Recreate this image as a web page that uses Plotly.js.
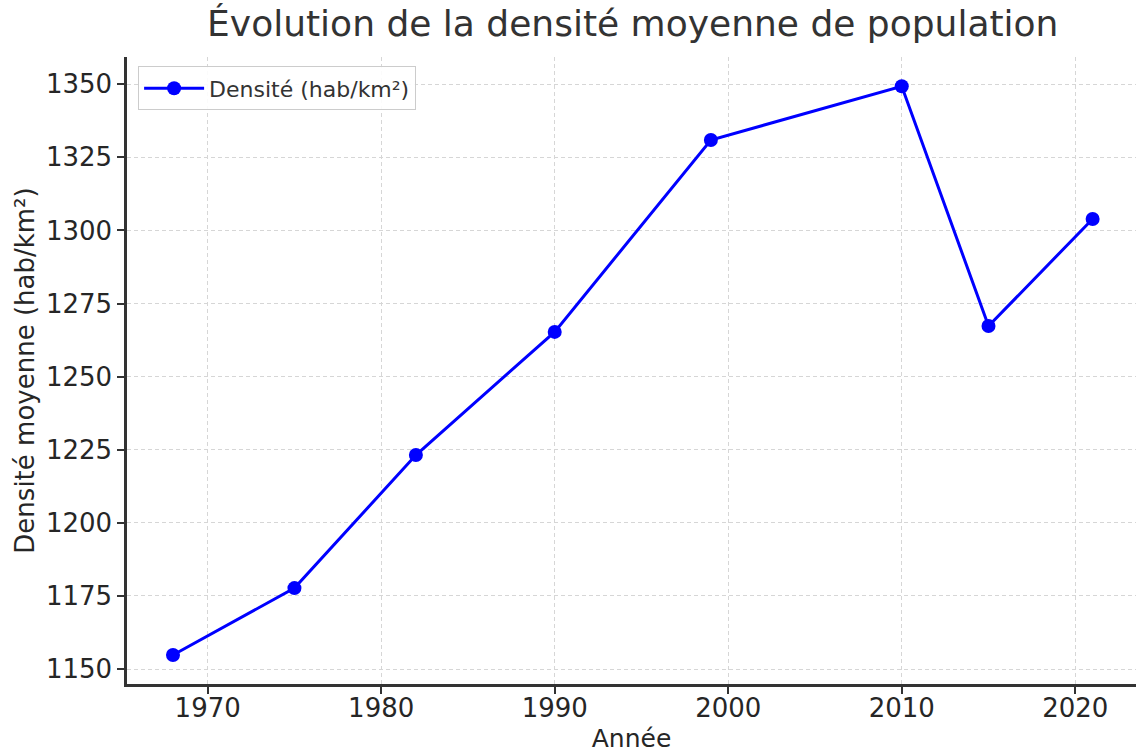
<!DOCTYPE html>
<html><head><meta charset="utf-8">
<script src="https://cdn.plot.ly/plotly-3.0.1.min.js"></script>
<style>body{margin:0;background:#fff}#chart{width:1136px;height:753px}</style>
</head><body><div id="chart"></div>
<script>
const years = [1968, 1975, 1982, 1990, 1999, 2010, 2015, 2021];
const densite = [1154.8, 1177.7, 1223.2, 1265.3, 1330.9, 1349.3, 1267.3, 1303.9];
const seriesName = 'Densité (hab/km²)';
const xTicks = [1970, 1980, 1990, 2000, 2010, 2020];
const yTicks = [1150, 1175, 1200, 1225, 1250, 1275, 1300, 1325, 1350];

const font = 'DejaVu Sans, sans-serif';
const txt = '#262626';
Plotly.newPlot('chart', [{
  x: years, y: densite, name: seriesName, type: 'scatter', mode: 'lines+markers',
  line: {color: '#0000ff', width: 3}, marker: {color: '#0000ff', size: 14},
  showlegend: true
}], {
  width: 1136, height: 753,
  margin: {l: 127, r: 0, t: 57, b: 69},
  paper_bgcolor: '#fff', plot_bgcolor: '#fff',
  font: {family: font, color: txt},
  title: {text: 'Évolution de la densité moyenne de population', font: {size: 36, color: '#333'}, x: 0.557, xanchor: 'center', y: 0.985, yanchor: 'top'},
  xaxis: {range: [1965.35, 2023.5], tickvals: xTicks, ticks: 'outside', ticklen: 7, tickwidth: 2, tickcolor: '#333',
    ticklabelstandoff: -8,
    showline: true, linecolor: '#333', linewidth: 2.5, mirror: false, zeroline: false,
    showgrid: true, gridcolor: '#d6d6d6', griddash: '4px,3px', gridwidth: 1,
    tickfont: {size: 26, color: txt},
    title: {text: 'Année', font: {size: 25, color: txt}, standoff: 10}, automargin: false},
  yaxis: {range: [1144.9, 1359.3], tickvals: yTicks, ticks: 'outside', ticklen: 7, tickwidth: 2, tickcolor: '#333',
    showline: true, linecolor: '#333', linewidth: 2.5, mirror: false, zeroline: false,
    showgrid: true, gridcolor: '#d6d6d6', griddash: '4px,3px', gridwidth: 1,
    tickfont: {size: 26, color: txt},
    title: {text: 'Densité moyenne (hab/km²)', font: {size: 26, color: txt}, standoff: 4}, automargin: false},
  legend: {x: 0.011, y: 0.985, xanchor: 'left', yanchor: 'top', bgcolor: 'rgba(255,255,255,0.9)',
    bordercolor: '#ccc', borderwidth: 1, itemwidth: 60, font: {size: 22, color: '#333'}}
}, {displayModeBar: false});
</script></body></html>
